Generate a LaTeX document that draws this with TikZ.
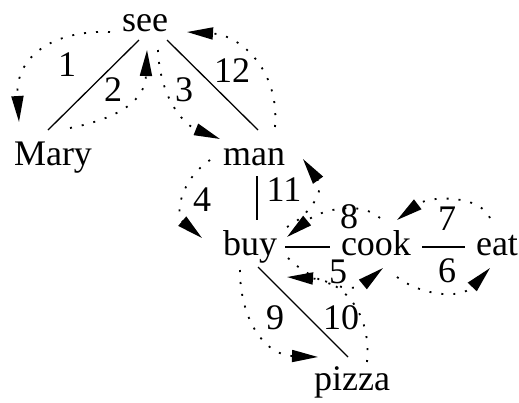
\documentclass[tikz,border=0pt]{standalone}
\usepackage{fontspec}
\setmainfont{Liberation Serif}
\usetikzlibrary{arrows.meta}
\begin{document}
\begin{tikzpicture}[x=1pt,y=-1pt,
  word/.style={inner sep=0pt,anchor=base,font=\fontsize{36}{40}\selectfont},
  num/.style={inner sep=0pt,anchor=center,font=\fontsize{36}{40}\selectfont},
  tree/.style={line width=1.3pt},
  walk/.style={line width=1.8pt,dash pattern=on 2pt off 10pt,
    -{Triangle[length=26pt,width=12pt]}}]
\useasboundingbox (0,0) rectangle (519,402);
% words
\node[word] (see) at (145,31) {see};
\node[word] (Mary) at (53,165) {Mary};
\node[word] (man) at (254,165) {man};
\node[word] (buy) at (250,255) {buy};
\node[word] (cook) at (376,255) {cook};
\node[word] (eat) at (497,255) {eat};
\node[word] (pizza) at (352,390) {pizza};
% tree edges
\draw[tree] ([shift={(-6,9)}]see.base) -- ([shift={(-5,-35)}]Mary.base);
\draw[tree] ([shift={(22,9)}]see.base) -- ([shift={(4,-35)}]man.base);
\draw[tree] ([shift={(3,11)}]man.base) -- ([shift={(7,-35)}]buy.base);
\draw[tree] ([shift={(35,-8)}]buy.base) -- ([shift={(-46,-8)}]cook.base);
\draw[tree] ([shift={(46,-8)}]cook.base) -- ([shift={(-32,-8)}]eat.base);
\draw[tree] ([shift={(8,12)}]buy.base) -- ([shift={(-4,-33)}]pizza.base);
% walk arcs
\draw[walk] ([shift={(-35,1)}]see.base) .. controls (55,30) and (15,55) .. ([shift={(-34,-43)}]Mary.base);
\draw[walk] ([shift={(17,-37)}]Mary.base) .. controls (120,118) and (145,100) .. ([shift={(2,19)}]see.base);
\draw[walk] ([shift={(13,19)}]see.base) .. controls (160,100) and (185,125) .. ([shift={(-34,-26)}]man.base);
\draw[walk] ([shift={(-44,-5)}]man.base) .. controls (180,180) and (175,215) .. ([shift={(-48,-17)}]buy.base);
\draw[walk] ([shift={(38,3)}]buy.base) .. controls (310,280) and (350,295) .. ([shift={(7,13)}]cook.base);
\draw[walk] ([shift={(21,22)}]cook.base) .. controls (420,295) and (460,300) .. ([shift={(-7,13)}]eat.base);
\draw[walk] ([shift={(-7,-37)}]eat.base) .. controls (480,195) and (430,195) .. ([shift={(21,-35)}]cook.base);
\draw[walk] ([shift={(4,-37)}]cook.base) .. controls (360,200) and (320,210) .. ([shift={(37,-18)}]buy.base);
\draw[walk] ([shift={(-10,15)}]buy.base) .. controls (240,320) and (265,355) .. ([shift={(-34,-33)}]pizza.base);
\draw[walk] ([shift={(15,-28)}]pizza.base) .. controls (372,310) and (340,280) .. ([shift={(37,22)}]buy.base);
\draw[walk] ([shift={(37,-28)}]buy.base) .. controls (310,215) and (325,190) .. ([shift={(49,-6)}]man.base);
\draw[walk] ([shift={(21,-38)}]man.base) .. controls (280,70) and (240,35) .. ([shift={(42,1)}]see.base);
% step numbers
\node[num] (l1) at (67,65) {1};
\node[num] (l2) at (113,90) {2};
\node[num] (l3) at (184,90) {3};
\node[num] (l4) at (202,200) {4};
\node[num] (l5) at (338,272) {5};
\node[num] (l6) at (447,271) {6};
\node[num] (l7) at (447,219) {7};
\node[num] (l8) at (349,217) {8};
\node[num] (l9) at (275,318) {9};
\node[num] (l10) at (341,318) {10};
\node[num] (l11) at (284,190) {11};
\node[num] (l12) at (232,71) {12};
\end{tikzpicture}
\end{document}
